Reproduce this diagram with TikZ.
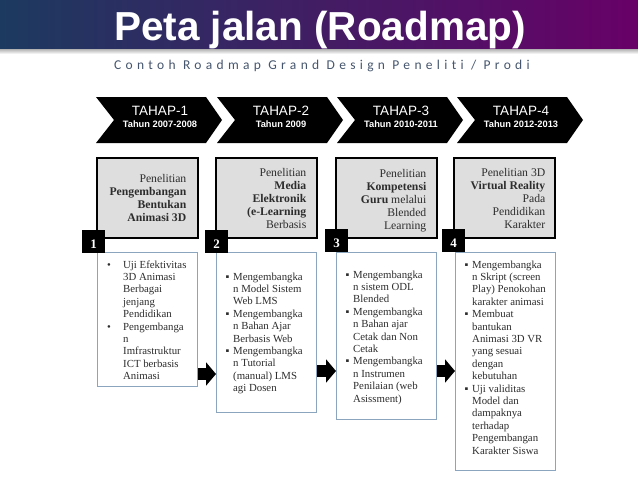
\documentclass[tikz,border=0pt]{standalone}
\usepackage{fontspec}
\setmainfont{Liberation Serif}
\newfontfamily\arialf{Liberation Sans}
\newfontfamily\subfont[LetterSpace=32, Ligatures=NoCommon]{Carlito}
\usetikzlibrary{arrows.meta}
\definecolor{navy}{RGB}{28,58,96}
\definecolor{plum}{RGB}{104,0,104}
\definecolor{subc}{RGB}{70,86,110}
\definecolor{boxgray}{RGB}{222,222,222}
\definecolor{edgeblue}{RGB}{140,165,190}
\definecolor{txt}{RGB}{45,45,45}
\newcommand\mybul[1]{\makebox[#1][l]{\textbullet}}
\newcommand\mysq[1]{\makebox[#1][l]{▪}}
\newcommand\myind[1]{\hspace*{#1}}
\begin{document}
\begin{tikzpicture}[x=1pt,y=-1pt,
  chevtext/.style={font=\arialf\fontsize{13.5}{14}\selectfont, text=white, inner sep=0},
  yeartext/.style={font=\arialf\bfseries\fontsize{9.3}{10}\selectfont, text=white, inner sep=0},
  graybox/.style={draw=black, line width=2.2pt, fill=boxgray, minimum width=101, minimum height=80, anchor=north west, inner sep=0},
  graytext/.style={anchor=north east, inner sep=0, text=txt, font=\fontsize{11.7}{13}\selectfont},
  wbox/.style={draw=edgeblue, line width=1pt, fill=white, minimum width=100, anchor=north west, inner sep=0},
  wtext/.style={anchor=north west, inner sep=0, text=txt, font=\fontsize{10.8}{12.4}\selectfont},
  numsq/.style={fill=black, minimum size=23, inner sep=0, text=white, font=\bfseries\fontsize{13}{13}\selectfont, text height=14pt, text depth=0pt},
  blockarrow/.style={line width=12pt, -{Triangle[length=10pt, width=23pt]}, black}
]
\useasboundingbox (0,0) rectangle (638,479);
\fill[white] (0,0) rectangle (638,479);
% header band
\shade[left color=navy, right color=plum] (0,0) rectangle (638,49);
\shade[top color=black!30, bottom color=white] (0,49) rectangle (638,54);
\node[anchor=base west, inner sep=0, font=\arialf\bfseries\fontsize{40.5}{40}\selectfont, text=white] (title) at (114,40) {Peta jalan (Roadmap)};
\node[anchor=base west, inner sep=0, font=\subfont\fontsize{13.5}{14}\selectfont, text=subc] (sub) at (114,69) {Contoh Roadmap Grand Design Peneliti / Prodi};
% chevrons
\foreach \i/\xo/\yr in {1/96/2007-2008, 2/217/2009, 3/337/2010-2011, 4/457/2012-2013}{
  \fill[black] (\xo,97) -- ++(110,0) -- ++(16,23) -- ++(-16,23) -- ++(-110,0) -- ++(18,-23) -- cycle;
  \node[chevtext] (tahap\i) at (\xo+64,111) {TAHAP-\i};
  \node[yeartext] (tahun\i) at (\xo+64,124) {Tahun \yr};
}
% gray boxes
\node[graybox] (g1) at (96,157) {};
\node[graybox] (g2) at (215,157) {};
\node[graybox] (g3) at (335,157) {};
\node[graybox] (g4) at (453,157) {};
\node[graytext] (gt1) at (186.5,172.9) {\begin{tabular}{@{}r@{}}Penelitian\\ \textbf{Pengembangan}\\ \textbf{Bentukan}\\ \textbf{Animasi 3D}\end{tabular}};
\node[graytext] (gt2) at (306.5,166.9) {\begin{tabular}{@{}r@{}}Penelitian\\ \textbf{Media}\\ \textbf{Elektronik}\\ \textbf{(e-Learning}\\ Berbasis\end{tabular}};
\node[graytext] (gt3) at (426.5,167.9) {\begin{tabular}{@{}r@{}}Penelitian\\ \textbf{Kompetensi}\\ \textbf{Guru} melalui\\ Blended\\ Learning\end{tabular}};
\node[graytext] (gt4) at (545.5,166.9) {\begin{tabular}{@{}r@{}}Penelitian 3D\\ \textbf{Virtual Reality}\\ Pada\\ Pendidikan\\ Karakter\end{tabular}};
% white boxes
\node[wbox, minimum height=134] (b1) at (97,252) {};
\node[wbox, minimum height=160] (b2) at (216,252) {};
\node[wbox, minimum height=167] (b3) at (336,252) {};
\node[wbox, minimum height=218] (b4) at (455,252) {};
\node[wtext] (bt1) at (107,259.3) {\begin{tabular}{@{}l@{}}
\mybul{16pt}Uji Efektivitas\\ \myind{16pt}3D Animasi\\ \myind{16pt}Berbagai\\ \myind{16pt}jenjang\\ \myind{16pt}Pendidikan\\
\mybul{16pt}Pengembanga\\ \myind{16pt}n\\ \myind{16pt}Imfrastruktur\\ \myind{16pt}ICT berbasis\\ \myind{16pt}Animasi\end{tabular}};
\node[wtext] (bt2) at (225.5,271.3) {\begin{tabular}{@{}l@{}}
\mysq{7.5pt}Mengembangka\\ \myind{7.5pt}n Model Sistem\\ \myind{7.5pt}Web LMS\\
\mysq{7.5pt}Mengembangka\\ \myind{7.5pt}n Bahan Ajar\\ \myind{7.5pt}Berbasis Web\\
\mysq{7.5pt}Mengembangka\\ \myind{7.5pt}n Tutorial\\ \myind{7.5pt}(manual) LMS\\ \myind{7.5pt}agi Dosen\end{tabular}};
\node[wtext] (bt3) at (345.5,269.3) {\begin{tabular}{@{}l@{}}
\mysq{7.5pt}Mengembangka\\ \myind{7.5pt}n sistem ODL\\ \myind{7.5pt}Blended\\
\mysq{7.5pt}Mengembangka\\ \myind{7.5pt}n Bahan ajar\\ \myind{7.5pt}Cetak dan Non\\ \myind{7.5pt}Cetak\\
\mysq{7.5pt}Mengembangka\\ \myind{7.5pt}n Instrumen\\ \myind{7.5pt}Penilaian (web\\ \myind{7.5pt}Asissment)\end{tabular}};
\node[wtext] (bt4) at (464.5,259.3) {\begin{tabular}{@{}l@{}}
\mysq{7.5pt}Mengembangka\\ \myind{7.5pt}n Skript (screen\\ \myind{7.5pt}Play) Penokohan\\ \myind{7.5pt}karakter animasi\\
\mysq{7.5pt}Membuat\\ \myind{7.5pt}bantukan\\ \myind{7.5pt}Animasi 3D VR\\ \myind{7.5pt}yang sesuai\\ \myind{7.5pt}dengan\\ \myind{7.5pt}kebutuhan\\
\mysq{7.5pt}Uji validitas\\ \myind{7.5pt}Model dan\\ \myind{7.5pt}dampaknya\\ \myind{7.5pt}terhadap\\ \myind{7.5pt}Pengembangan\\ \myind{7.5pt}Karakter Siswa\end{tabular}};
% number squares
\node[numsq] (n1) at (93.5,241) {1};
\node[numsq] (n2) at (216.5,241) {2};
\node[numsq] (n3) at (336.5,240) {3};
\node[numsq] (n4) at (453.5,240) {4};
% block arrows
\coordinate (ay1) at (0,374);
\coordinate (ay2) at (0,371);
\coordinate (ay3) at (0,371);
\draw[blockarrow] (b1.east |- ay1) -- (b2.west |- ay1);
\draw[blockarrow] (b2.east |- ay2) -- (b3.west |- ay2);
\draw[blockarrow] (b3.east |- ay3) -- (b4.west |- ay3);
\end{tikzpicture}
\end{document}
